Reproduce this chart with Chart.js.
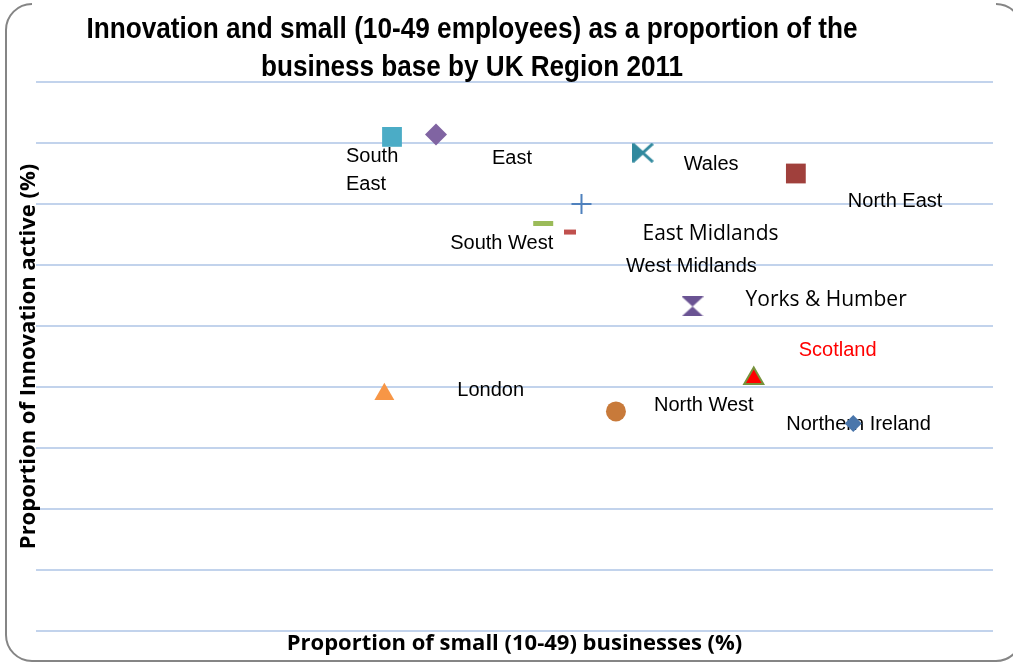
<!DOCTYPE html>
<html>
<head>
<meta charset="utf-8">
<script src="https://cdn.jsdelivr.net/npm/chart.js@4.4.0/dist/chart.umd.min.js"></script>
<style>
  html, body { margin: 0; padding: 0; background: #fff; }
  #wrap { width: 1013px; height: 664px; position: relative; }
</style>
</head>
<body>
<div id="wrap"><canvas id="chart" width="1013" height="664"></canvas></div>
<script>
// values (the original hides its tick labels)
const regions = ['South East', 'East', 'Wales', 'North East', 'East Midlands', 'South West',
  'West Midlands', 'Yorks & Humber', 'Scotland', 'London', 'North West', 'Northern Ireland'];
const smallShare = [11.86, 12.09, 13.17, 13.97, 12.85, 12.65, 12.79, 13.43, 13.75, 11.82, 13.03, 14.27];
const innovActive = [40.5, 40.7, 39.2, 37.5, 35.0, 33.4, 32.7, 26.6, 20.7, 19.4, 18.0, 17.0];
const xRange = [10, 15];
const yRange = [0, 45];
const yStep = 5;
const titleLines = ['Innovation and small (10-49 employees) as a proportion of the',
  'business base by UK Region 2011'];

// custom marker shapes
function makeMarker(w, h, draw) {
  const c = document.createElement('canvas');
  c.width = w; c.height = h;
  draw(c.getContext('2d'));
  return c;
}
const hourglass = makeMarker(22, 20, g => {
  g.fillStyle = '#6a5393';
  g.beginPath();
  g.moveTo(0, 0); g.lineTo(22, 0); g.lineTo(11, 10); g.closePath();
  g.moveTo(0, 20); g.lineTo(22, 20); g.lineTo(11, 10); g.closePath();
  g.fill();
});
const walesMarker = makeMarker(22, 20, g => {
  g.fillStyle = '#31899e';
  g.strokeStyle = '#31899e';
  g.beginPath();
  g.moveTo(0, 0); g.lineTo(11, 10); g.lineTo(0, 20); g.closePath();
  g.fill();
  g.lineWidth = 3;
  g.beginPath();
  g.moveTo(1, 1); g.lineTo(21, 19);
  g.moveTo(21, 1); g.lineTo(1, 19);
  g.stroke();
});

const markerStyles = ['rect', 'rectRot', walesMarker, 'rect', 'cross', 'line', 'line',
  hourglass, 'triangle', 'triangle', 'circle', 'rectRot'];
const markerSizes = [14, 11, 11, 14, 10, 10, 6, 11, 11, 11.5, 10, 8.5];
const markerFill = ['#4bacc6', '#8064a2', '#31899e', '#a0403c', '#4f81bd', '#9bbb59', '#c0504d',
  '#6a5393', '#ff0000', '#f79646', '#c87a3a', '#4a76ab'];
const markerLine = ['#4bacc6', '#8064a2', '#31899e', '#a0403c', '#4f81bd', '#9bbb59', '#c0504d',
  '#6a5393', '#77933c', '#f79646', '#c87a3a', '#4a76ab'];
const markerLineWidth = [0, 0, 0, 0, 2, 5, 5, 0, 2, 0, 0, 0];

// label placement relative to each point, in pixels
const labelOffsets = [[-46, 20], [56, 24], [41, 12], [52, 28], [61, 30], [-93, 20],
  [56, 34], [53, -6], [45, -28], [73, -4], [38, -6], [-67, 1]];
const arialFont = '20px "Liberation Sans", Arial, sans-serif';
const openFont = '21px "Open Sans", sans-serif';
const labelFonts = regions.map(r => (r === 'East Midlands' || r === 'Yorks & Humber') ? openFont : arialFont);
const labelColors = regions.map(r => r === 'Scotland' ? '#ff0000' : '#000');

const frame = {
  id: 'frame',
  beforeDraw(chart) {
    const ctx = chart.ctx;
    const l = 6, r = 1022, t = 4, b = 661, rad = 26;
    ctx.save();
    ctx.strokeStyle = '#858585';
    ctx.lineWidth = 2;
    ctx.beginPath();
    ctx.arc(l + rad, t + rad, rad, -Math.PI / 2, Math.PI, true);
    ctx.lineTo(l, b - rad);
    ctx.arc(l + rad, b - rad, rad, Math.PI, Math.PI / 2, true);
    ctx.lineTo(r - rad, b);
    ctx.arc(r - rad, b - rad, rad, Math.PI / 2, 0, true);
    ctx.stroke();
    ctx.beginPath();
    ctx.arc(r - rad, t + rad, rad, -Math.PI / 2, -Math.PI / 4);
    ctx.stroke();
    ctx.restore();
  }
};

const pointLabels = {
  id: 'pointLabels',
  beforeDatasetsDraw(chart) {
    const { ctx, scales: { x, y } } = chart;
    ctx.save();
    ctx.textAlign = 'left';
    ctx.textBaseline = 'middle';
    regions.forEach((name, i) => {
      const px = x.getPixelForValue(smallShare[i]) + labelOffsets[i][0];
      const py = y.getPixelForValue(innovActive[i]) + labelOffsets[i][1];
      ctx.font = labelFonts[i];
      ctx.fillStyle = labelColors[i];
      const lines = name === 'South East' ? name.split(' ') : [name];
      lines.forEach((ln, k) => ctx.fillText(ln, px, py + k * 28));
    });
    ctx.restore();
  }
};

// title is drawn a bit narrower than the font, like the original
const titleWidths = [771, 422];
const titleBaselines = [38, 76];
const titleBlock = {
  id: 'titleBlock',
  afterDraw(chart) {
    const ctx = chart.ctx;
    ctx.save();
    ctx.font = 'bold 30px "Liberation Sans", Arial, sans-serif';
    ctx.fillStyle = '#000';
    ctx.textAlign = 'center';
    ctx.textBaseline = 'alphabetic';
    titleLines.forEach((t, i) => {
      const sx = titleWidths[i] / ctx.measureText(t).width;
      ctx.save();
      ctx.translate(472, titleBaselines[i]);
      ctx.scale(sx, 1);
      ctx.fillText(t, 0, 0);
      ctx.restore();
    });
    ctx.restore();
  }
};

const axisFont = { family: '"Open Sans", sans-serif', size: 22, weight: 'bold' };

new Chart(document.getElementById('chart'), {
  type: 'scatter',
  data: {
    datasets: [{
      label: 'Regions',
      data: smallShare.map((v, i) => ({ x: v, y: innovActive[i] })),
      pointStyle: markerStyles,
      pointRadius: markerSizes,
      backgroundColor: markerFill,
      borderColor: markerLine,
      borderWidth: markerLineWidth
    }]
  },
  options: {
    responsive: false,
    animation: false,
    events: [],
    layout: { padding: { left: 6, right: 20, top: 82, bottom: 0 } },
    plugins: {
      legend: { display: false },
      tooltip: { enabled: false }
    },
    scales: {
      x: {
        type: 'linear',
        min: xRange[0],
        max: xRange[1],
        grid: { display: false },
        border: { display: false },
        ticks: { display: false },
        title: {
          display: true,
          text: 'Proportion of small (10-49) businesses (%)',
          color: '#000',
          font: axisFont,
          padding: { top: 0, bottom: 7 }
        },
        afterFit(s) { s.height = 33; }
      },
      y: {
        min: yRange[0],
        max: yRange[1],
        ticks: { display: false, stepSize: yStep },
        grid: { color: '#c2d3ec', lineWidth: 2, drawTicks: false },
        border: { display: false },
        title: {
          display: true,
          text: 'Proportion of Innovation active (%)',
          color: '#000',
          font: axisFont,
          padding: { top: 10, bottom: 0 }
        },
        afterFit(s) { s.width = 30; }
      }
    }
  },
  plugins: [frame, pointLabels, titleBlock]
});
</script>
</body>
</html>
